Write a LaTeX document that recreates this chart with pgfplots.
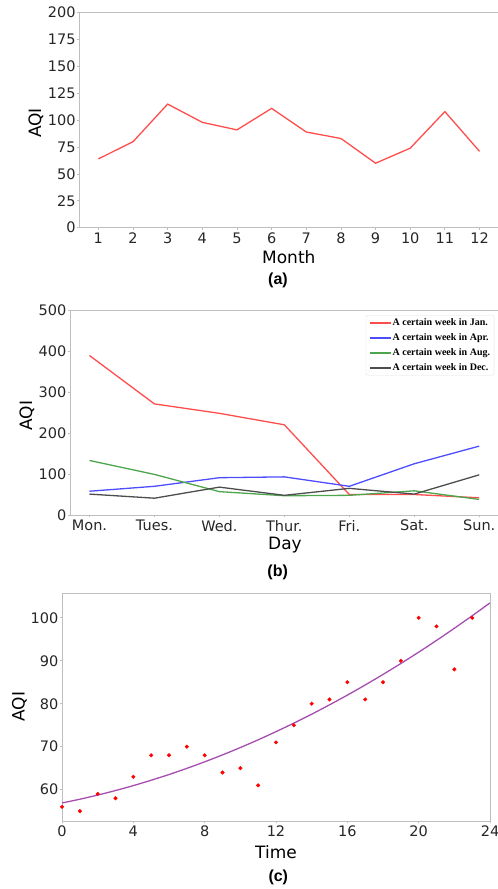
\documentclass[border=0pt]{standalone}
\usepackage{pgfplots}
\pgfplotsset{compat=1.18}
\usepackage{fontspec}
\setmainfont{DejaVu Sans}
\newfontfamily\capfont{Liberation Sans}
\newfontfamily\legfont{Liberation Serif}
\definecolor{spine}{RGB}{190,190,190}
\definecolor{tickc}{RGB}{38,38,38}
\definecolor{lred}{RGB}{255,77,77}
\definecolor{lblue}{RGB}{77,77,255}
\definecolor{lgreen}{RGB}{77,166,77}
\definecolor{lblack}{RGB}{77,77,77}
\definecolor{lpurple}{RGB}{166,77,176}
\pgfplotsset{
  common/.style={
    scale only axis,
    axis line style={draw=spine, line width=1pt},
    tick style={draw=spine, line width=0.8pt},
    major tick length=2pt,
    tick align=outside,
    xtick pos=left, ytick pos=left,
    /pgf/number format/assume math mode=true,
    /pgf/number format/1000 sep={},
    ticklabel style={font=\fontsize{14.5}{16}\selectfont, text=tickc},
    xticklabel style={inner sep=0pt, yshift=-3pt},
    yticklabel style={inner sep=0pt, xshift=-1.5pt},
  }
}
\pgfplotstableread{
x y
1 64
2 80
3 115
4 98
5 91
6 111
7 89
8 83
9 60
10 74
11 108
12 71
}\tablea
\pgfplotstableread{
x jan apr aug dec
0 389 58 133 51
1 271 70 99 41
2 248 91 57 68
3 220 93 47 48
4 50 70 48 65
5 50 125 59 51
6 42 168 38 98
}\tableb
\pgfplotstableread{
x y
0 56
1 55
2 59
3 58
4 63
5 68
6 68
7 70
8 68
9 64
10 65
11 61
12 71
13 75
14 80
15 81
16 85
17 81
18 85
19 90
20 100
21 98
22 88
23 100
}\tablec
\pgfplotstableread{
x y
0 56.90
1 57.77
2 58.74
3 59.79
4 60.94
5 62.19
6 63.52
7 64.95
8 66.48
9 68.09
10 69.80
11 71.60
12 73.50
13 75.48
14 77.56
15 79.74
16 82.00
17 84.36
18 86.82
19 89.36
20 92.00
21 94.73
22 97.56
23 100.47
24 103.48
}\tablefit
\begin{document}
\begin{tikzpicture}[x=1pt,y=1pt]
\useasboundingbox (0pt,0pt) rectangle (498pt,-889pt);
% (a)
\begin{axis}[common, at={(79.3pt,-227.7pt)}, anchor=south west,
  width=419.3pt, height=215pt,
  xmin=0.45, xmax=12.55, ymin=0, ymax=200,
  xtick={1,...,12}, ytick={0,25,...,200}]
\addplot[lred, line width=1.3pt] table[x=x,y=y] {\tablea};
\end{axis}
\node[anchor=base, font=\fontsize{17}{20}\selectfont, text=black] at (288.8pt,-263.3pt) {Month};
\node[rotate=90, font=\fontsize{17}{20}\selectfont] at (36pt,-123pt) {AQI};
\node[anchor=base, font=\capfont\bfseries\fontsize{16}{18}\selectfont] at (278pt,-284.3pt) {(a)};
% (b)
\begin{axis}[common, at={(70pt,-515pt)}, anchor=south west,
  width=428.7pt, height=205pt,
  xmin=-0.3, xmax=6.3, ymin=0, ymax=500,
  xtick={0,...,6}, xticklabels={Mon.,Tues.,Wed.,Thur.,Fri.,Sat.,Sun.},
  ytick={0,100,...,500},
  legend style={at={(0.9897,0.9756)}, anchor=north east,
    draw=black!12, rounded corners=2pt, fill=white,
    font=\legfont\bfseries\fontsize{10}{11}\selectfont,
    inner xsep=3pt, inner ysep=2pt,
    nodes={inner sep=1pt, text height=7pt, text depth=2pt},
    row sep=4pt,
    /tikz/every even column/.append style={column sep=6pt}},
  legend cell align=left,
  legend image code/.code={\draw[#1, line width=1.6pt] (0pt,0pt) -- (21pt,0pt);}]
\addplot[lred, line width=1.3pt] table[x=x,y=jan] {\tableb};
\addlegendentry{A certain week in Jan.}
\addplot[lblue, line width=1.3pt] table[x=x,y=apr] {\tableb};
\addlegendentry{A certain week in Apr.}
\addplot[lgreen, line width=1.3pt] table[x=x,y=aug] {\tableb};
\addlegendentry{A certain week in Aug.}
\addplot[lblack, line width=1.3pt] table[x=x,y=dec] {\tableb};
\addlegendentry{A certain week in Dec.}
\end{axis}
\node[anchor=base, font=\fontsize{17}{20}\selectfont] at (285pt,-549pt) {Day};
\node[rotate=90, font=\fontsize{17}{20}\selectfont] at (27pt,-415.7pt) {AQI};
\node[anchor=base, font=\capfont\bfseries\fontsize{16}{18}\selectfont] at (277.7pt,-576.6pt) {(b)};
% (c)
\begin{axis}[common, at={(62pt,-821pt)}, anchor=south west,
  width=428pt, height=227.7pt,
  xmin=0, xmax=24, ymin=52.7, ymax=105.7,
  xtick={0,4,...,24}, ytick={60,70,...,100},
  clip=false]
\addplot[lpurple, line width=1.3pt, smooth] table[x=x,y=y] {\tablefit};
\addplot[only marks, mark=*, mark size=1.8pt, red, mark options={draw=none, fill=red}] table[x=x,y=y] {\tablec};
\end{axis}
\node[anchor=base, font=\fontsize{17}{20}\selectfont] at (276pt,-858.3pt) {Time};
\node[rotate=90, font=\fontsize{17}{20}\selectfont] at (19.3pt,-706.7pt) {AQI};
\node[anchor=base, font=\capfont\bfseries\fontsize{16}{18}\selectfont] at (278.3pt,-881.6pt) {(c)};
\end{tikzpicture}
\end{document}
